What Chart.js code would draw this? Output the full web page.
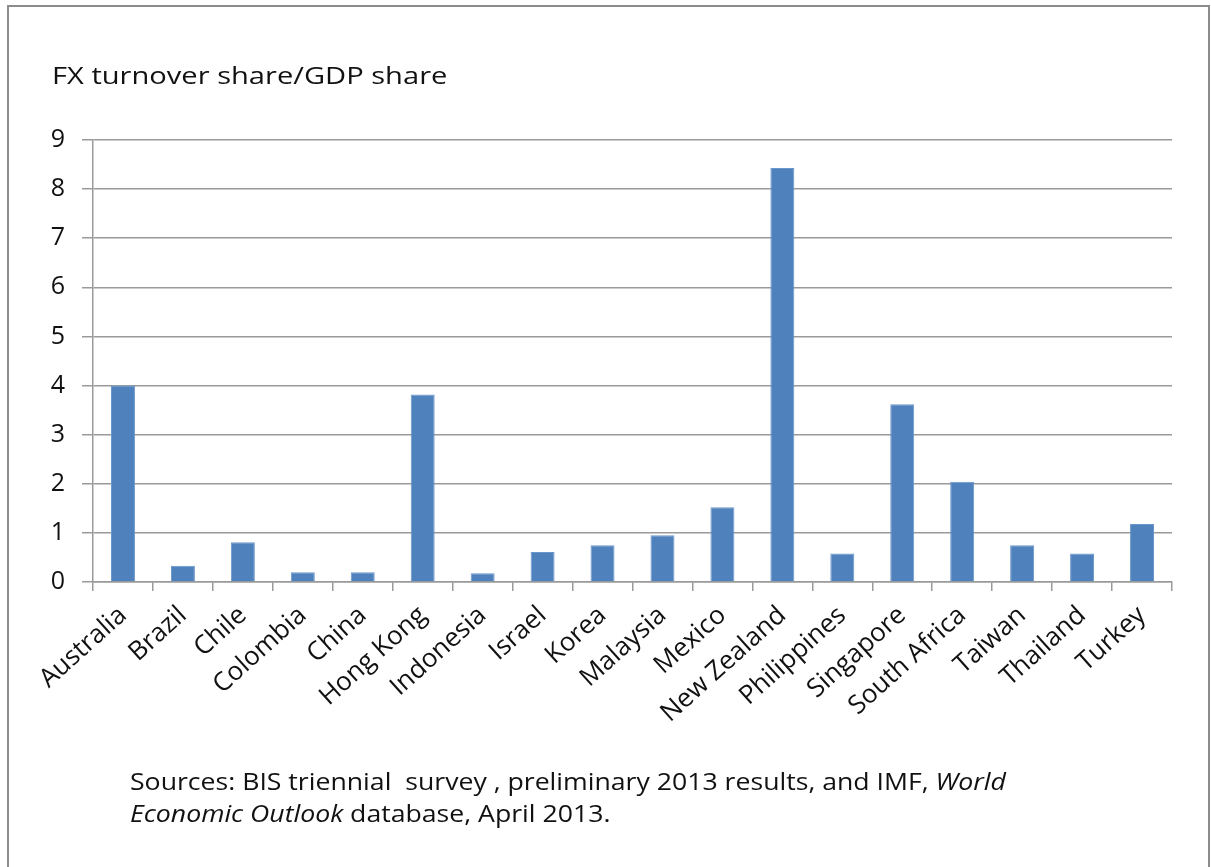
<!DOCTYPE html>
<html>
<head>
<meta charset="utf-8">
<script src="https://cdn.jsdelivr.net/npm/chart.js@4.4.0/dist/chart.umd.min.js"></script>
<style>
  body { margin: 0; background: #fff; font-family: "Open Sans", sans-serif; }
  #wrap { position: relative; width: 1211px; height: 867px; overflow: hidden; }
  #frame { position: absolute; left: 7px; top: 5px; width: 1199px; height: 900px; border: 2px solid #8c8c8c; }
  #chart { position: absolute; left: 0; top: 0; }
  #title { position: absolute; left: 52px; top: 59px; font-size: 23px; color: #111; transform-origin: 0 0; transform: scaleX(1.265); white-space: nowrap; }
  #source { position: absolute; left: 130px; top: 765px; font-size: 24px; line-height: 32px; color: #111; transform-origin: 0 0; transform: scaleX(1.11); white-space: nowrap; }
</style>
</head>
<body>
<div id="wrap">
  <div id="frame"></div>
  <canvas id="chart" width="1211" height="867"></canvas>
  <div id="title">FX turnover share/GDP share</div>
  <div id="source">Sources: BIS triennial&nbsp; survey , preliminary 2013 results, and IMF, <i>World</i><br><i>Economic Outlook</i> database, April 2013.</div>
</div>
<script>
const countries = ["Australia", "Brazil", "Chile", "Colombia", "China", "Hong Kong", "Indonesia", "Israel", "Korea",
  "Malaysia", "Mexico", "New Zealand", "Philippines", "Singapore", "South Africa", "Taiwan", "Thailand", "Turkey"];
const ratio = [4.0, 0.33, 0.81, 0.2, 0.2, 3.82, 0.18, 0.61, 0.75, 0.95, 1.52, 8.43, 0.58, 3.62, 2.04, 0.75, 0.58, 1.18];
const yTicks = [0, 1, 2, 3, 4, 5, 6, 7, 8, 9];

const axisGray = "#9a9a9a";

new Chart(document.getElementById("chart").getContext("2d"), {
  type: "bar",
  data: {
    labels: countries,
    datasets: [{
      data: ratio,
      backgroundColor: "#4f81bd",
      borderColor: "#6b96cb",
      borderWidth: 1,
      barPercentage: 0.4,
      categoryPercentage: 1
    }]
  },
  options: {
    responsive: false,
    animation: false,
    layout: { autoPadding: false, padding: { left: 0, top: 140, right: 39, bottom: 85 } },
    plugins: { legend: { display: false }, tooltip: { enabled: false } },
    scales: {
      x: {
        afterFit: s => { s.height = 200; },
        border: { color: axisGray, width: 1.5 },
        grid: { drawOnChartArea: false, drawTicks: true, tickLength: 9, color: axisGray, lineWidth: 1.5 },
        ticks: { minRotation: 42, maxRotation: 42, autoSkip: false, color: "#111",
          font: { family: "'Open Sans', sans-serif", size: 26 }, padding: 9 }
      },
      y: {
        min: 0, max: 9,
        afterFit: s => { s.width = 93; },
        afterBuildTicks: s => { s.ticks = yTicks.map(v => ({ value: v })); },
        border: { color: axisGray, width: 1.5 },
        grid: { color: axisGray, lineWidth: 1.5, tickLength: 11 },
        ticks: { color: "#111", font: { family: "'Open Sans', sans-serif", size: 25 }, padding: 17 }
      }
    }
  }
});
</script>
</body>
</html>
